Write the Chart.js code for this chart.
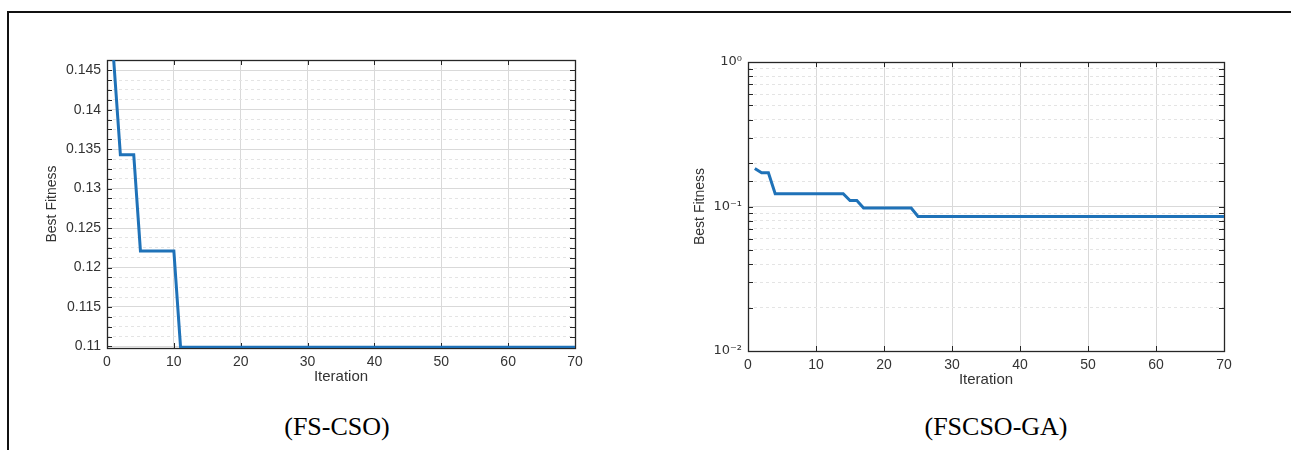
<!DOCTYPE html>
<html>
<head>
<meta charset="utf-8">
<script src="https://cdn.jsdelivr.net/npm/chart.js@4.4.1/dist/chart.umd.min.js"></script>
<style>
  html, body { margin: 0; padding: 0; background: #fff; }
  #page { position: relative; width: 1291px; height: 450px; overflow: hidden; }
  #frame { position: absolute; left: 7px; top: 11px; right: -10px; bottom: -10px; border-top: 2px solid #111; border-left: 2px solid #111; }
  .plot { position: absolute; top: 40px; width: 600px; height: 350px; }
  .caption { position: absolute; top: 412px; width: 300px; text-align: center; font-family: "Liberation Serif", "Times New Roman", serif; font-size: 26px; line-height: 30px; color: #000; }
</style>
</head>
<body>
<div id="page">
  <div id="frame"></div>
  <div class="plot" style="left:20px"><canvas id="csoChart"></canvas></div>
  <div class="plot" style="left:660px"><canvas id="gaChart"></canvas></div>
  <div class="caption" style="left:187px">(FS-CSO)</div>
  <div class="caption" style="left:846px">(FSCSO-GA)</div>
</div>
<script>
// Iteraciones 1..70
const iterations = Array.from({ length: 70 }, (_, i) => i + 1);

// FS-CSO: mejor fitness por iteración
const csoFitness = [
    0.1463, 0.1343, 0.1343, 0.1343, 0.1221, 0.1221, 0.1221, 0.1221, 0.1221, 0.1221,
    0.1099, 0.1099, 0.1099, 0.1099, 0.1099, 0.1099, 0.1099, 0.1099, 0.1099, 0.1099,
    0.1099, 0.1099, 0.1099, 0.1099, 0.1099, 0.1099, 0.1099, 0.1099, 0.1099, 0.1099,
    0.1099, 0.1099, 0.1099, 0.1099, 0.1099, 0.1099, 0.1099, 0.1099, 0.1099, 0.1099,
    0.1099, 0.1099, 0.1099, 0.1099, 0.1099, 0.1099, 0.1099, 0.1099, 0.1099, 0.1099,
    0.1099, 0.1099, 0.1099, 0.1099, 0.1099, 0.1099, 0.1099, 0.1099, 0.1099, 0.1099,
    0.1099, 0.1099, 0.1099, 0.1099, 0.1099, 0.1099, 0.1099, 0.1099, 0.1099, 0.1099
];

// FSCSO-GA: mejor fitness por iteración
const gaFitness = [
    0.183, 0.171, 0.171, 0.1225, 0.1225, 0.1225, 0.1225, 0.1225, 0.1225, 0.1225,
    0.1225, 0.1225, 0.1225, 0.1225, 0.110, 0.110, 0.0975, 0.0975, 0.0975, 0.0975,
    0.0975, 0.0975, 0.0975, 0.0975, 0.0853, 0.0853, 0.0853, 0.0853, 0.0853, 0.0853,
    0.0853, 0.0853, 0.0853, 0.0853, 0.0853, 0.0853, 0.0853, 0.0853, 0.0853, 0.0853,
    0.0853, 0.0853, 0.0853, 0.0853, 0.0853, 0.0853, 0.0853, 0.0853, 0.0853, 0.0853,
    0.0853, 0.0853, 0.0853, 0.0853, 0.0853, 0.0853, 0.0853, 0.0853, 0.0853, 0.0853,
    0.0853, 0.0853, 0.0853, 0.0853, 0.0853, 0.0853, 0.0853, 0.0853, 0.0853, 0.0853
];

// Ejes
const iterationTicks = [0, 10, 20, 30, 40, 50, 60, 70];
const csoTickValues = [0.11, 0.115, 0.12, 0.125, 0.13, 0.135, 0.14, 0.145];
const csoTickLabels = ['0.11', '0.115', '0.12', '0.125', '0.13', '0.135', '0.14', '0.145'];
const gaTickValues = [0.01, 0.1, 1];
const gaTickLabels = ['10\u207B\u00B2', '10\u207B\u00B9', '10\u2070'];

const AXIS_COLOR = '#262626';
const TEXT_COLOR = '#333333';
const MAJOR_GRID = '#d9d9d9';
const MINOR_GRID = '#e4e4e4';
const LINE_COLOR = '#1f72b8';

const isCsoMajor = v => csoTickValues.some(t => Math.abs(t - v) < 1e-7);
const isGaMajor = v => gaTickValues.some(t => Math.abs(Math.log10(t) - Math.log10(v)) < 1e-6);

// Caja estilo MATLAB con marcas hacia dentro
const matlabBox = {
    id: 'matlabBox',
    beforeDatasetsDraw(chart) {
        const { ctx, chartArea: a, scales: { x, y } } = chart;
        ctx.save();
        ctx.strokeStyle = AXIS_COLOR;
        ctx.lineWidth = 1;
        ctx.beginPath();
        x.ticks.forEach(t => {
            const px = Math.round(x.getPixelForValue(t.value)) + 0.5;
            ctx.moveTo(px, a.bottom); ctx.lineTo(px, a.bottom - 5);
            ctx.moveTo(px, a.top); ctx.lineTo(px, a.top + 5);
        });
        y.ticks.forEach(t => {
            const py = Math.round(y.getPixelForValue(t.value)) + 0.5;
            ctx.moveTo(a.left, py); ctx.lineTo(a.left + 5, py);
            ctx.moveTo(a.right, py); ctx.lineTo(a.right - 5, py);
        });
        ctx.stroke();
        ctx.lineWidth = 1.3;
        ctx.strokeRect(Math.round(a.left) + 0.5, Math.round(a.top) + 0.5,
            Math.round(a.right - a.left), Math.round(a.bottom - a.top));
        ctx.restore();
    }
};

const tickFont = { family: "'Liberation Sans', Arial, sans-serif", size: 14 };
const xTitleFont = { family: "'Liberation Sans', Arial, sans-serif", size: 15 };
const yTitleFont = { family: "'Liberation Sans', Arial, sans-serif", size: 14 };

function makeChart(canvasId, values, yScale, padding, yWidth, xHeight) {
    const ctx = document.getElementById(canvasId).getContext('2d');
    return new Chart(ctx, {
        type: 'line',
        data: {
            datasets: [{
                data: iterations.map((it, i) => ({ x: it, y: values[i] })),
                borderColor: LINE_COLOR,
                borderWidth: 3,
                pointRadius: 0,
                tension: 0,
                fill: false
            }]
        },
        options: {
            responsive: true,
            maintainAspectRatio: false,
            animation: false,
            layout: { padding: padding },
            plugins: { legend: { display: false }, tooltip: { enabled: false } },
            scales: {
                x: {
                    type: 'linear',
                    min: 0,
                    max: 70,
                    afterBuildTicks: s => { s.ticks = iterationTicks.map(v => ({ value: v })); },
                    afterFit: s => { s.height = xHeight; },
                    ticks: { color: TEXT_COLOR, font: tickFont, padding: 6, maxRotation: 0 },
                    grid: { color: MAJOR_GRID, drawTicks: false },
                    border: { display: false },
                    title: { display: true, text: 'Iteration', color: TEXT_COLOR, font: xTitleFont, padding: 0 }
                },
                y: Object.assign({
                    afterFit: s => { s.width = yWidth; },
                    title: { display: true, text: 'Best Fitness', color: TEXT_COLOR, font: yTitleFont, padding: 0 }
                }, yScale)
            }
        },
        plugins: [matlabBox]
    });
}

// FS-CSO (lineal)
makeChart('csoChart', csoFitness, {
    type: 'linear',
    min: 0.1098,
    max: 0.1463,
    ticks: {
        stepSize: 0.00125,
        includeBounds: false,
        autoSkip: false,
        padding: 6,
        color: TEXT_COLOR,
        font: tickFont,
        callback: v => {
            const i = csoTickValues.findIndex(t => Math.abs(t - v) < 1e-7);
            return i >= 0 ? csoTickLabels[i] : '';
        }
    },
    grid: {
        drawTicks: false,
        color: c => (c.tick && isCsoMajor(c.tick.value)) ? MAJOR_GRID : MINOR_GRID
    },
    border: {
        display: false,
        dash: c => (c.tick && !isCsoMajor(c.tick.value)) ? [3, 3] : []
    }
}, { top: 20, left: 24, right: 45, bottom: 4 }, 63, 38);

// FSCSO-GA (logarítmico)
makeChart('gaChart', gaFitness, {
    type: 'logarithmic',
    min: 0.01,
    max: 1,
    ticks: {
        autoSkip: false,
        padding: 6,
        color: TEXT_COLOR,
        font: { family: "'DejaVu Sans', 'Liberation Sans', sans-serif", size: 13 },
        callback: v => {
            const i = gaTickValues.findIndex(t => Math.abs(Math.log10(t) - Math.log10(v)) < 1e-6);
            return i >= 0 ? gaTickLabels[i] : '';
        }
    },
    grid: {
        drawTicks: false,
        color: c => (c.tick && isGaMajor(c.tick.value)) ? MAJOR_GRID : MINOR_GRID
    },
    border: {
        display: false,
        dash: c => (c.tick && !isGaMajor(c.tick.value)) ? [3, 3] : []
    }
}, { top: 22, left: 32, right: 36, bottom: 1 }, 56, 38);
</script>
</body>
</html>
